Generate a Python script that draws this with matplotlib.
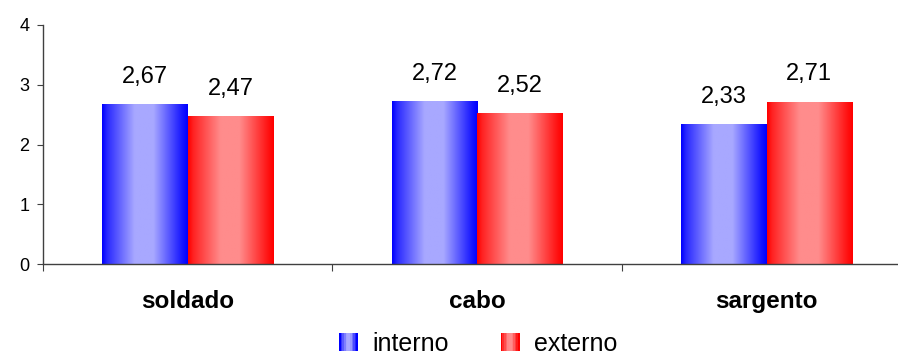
import numpy as np
import matplotlib
matplotlib.use("Agg")
import matplotlib.pyplot as plt
from matplotlib.legend_handler import HandlerBase
from matplotlib.patches import Rectangle

plt.rcParams['font.family'] = ['Liberation Sans', 'DejaVu Sans']

categories = ['soldado', 'cabo', 'sargento']
series_names = ['interno', 'externo']
interno = [2.67, 2.72, 2.33]
externo = [2.47, 2.52, 2.71]
value_labels = [['2,67', '2,72', '2,33'], ['2,47', '2,52', '2,71']]

edge_colors = [np.array([0, 0, 255]) / 255, np.array([255, 0, 0]) / 255]
light_colors = [np.array([168, 168, 255]) / 255, np.array([255, 140, 140]) / 255]

# horizontal shading profile across each bar (0 = full colour, 1 = light)
shade_t = [0.0, 0.06, 0.38, 0.6, 0.94, 1.0]
shade_v = [0.0, 0.25, 1.0, 1.0, 0.12, 0.0]


def gradient_row(i, n=120):
    t = np.linspace(0, 1, n)
    s = np.interp(t, shade_t, shade_v)[:, None]
    return (edge_colors[i] * (1 - s) + light_colors[i] * s)[None, :, :]


class GradientHandler(HandlerBase):
    def __init__(self, idx):
        super().__init__()
        self.idx = idx

    def create_artists(self, legend, orig_handle, xdescent, ydescent,
                       width, height, fontsize, trans):
        n = 12
        side = height * 1.05
        x0 = -xdescent + width - side
        y0 = -ydescent + (height - side) / 2
        row = gradient_row(self.idx, n)[0]
        arts = []
        for k in range(n):
            arts.append(Rectangle((x0 + k * side / n, y0), side / n + 0.3, side,
                                  facecolor=row[k], edgecolor='none', transform=trans))
        return arts


fig = plt.figure(figsize=(8.98, 3.56), dpi=100)
ax = fig.add_axes([0.0479, 0.2584, 0.967, 0.6714])

x = np.arange(len(categories))
w = 0.295
handles = []
for i, vals in enumerate([interno, externo]):
    pos = x - w / 2 if i == 0 else x + w / 2
    bars = ax.bar(pos, vals, w, facecolor='none', edgecolor='none', label=series_names[i])
    handles.append(bars)
    for b, lab in zip(bars, value_labels[i]):
        bx, bw, bh = b.get_x(), b.get_width(), b.get_height()
        ax.imshow(gradient_row(i), extent=[bx, bx + bw, 0, bh], aspect='auto',
                  interpolation='bilinear', zorder=2)
        ax.annotate(lab, (bx + bw / 2, bh), xytext=(0, 20), textcoords='offset points',
                    ha='center', va='center', fontsize=17)

ax.set_xlim(-0.5, 2.5)
ax.set_ylim(0, 4)
ax.set_yticks([0, 1, 2, 3, 4])
ax.tick_params(axis='y', labelsize=13, length=4, color='#404040', pad=6)

ax.set_xticks([-0.5, 0.5, 1.5, 2.5])
ax.set_xticklabels([])
ax.tick_params(axis='x', length=5, color='#404040')
ax.set_xticks(x, minor=True)
ax.set_xticklabels(categories, minor=True, fontsize=17.5, fontweight='bold')
ax.tick_params(axis='x', which='minor', length=0, pad=19)

for side in ['top', 'right']:
    ax.spines[side].set_visible(False)
for side in ['left', 'bottom']:
    ax.spines[side].set_color('#404040')
    ax.spines[side].set_linewidth(1.0)

fig.legend(handles, series_names, loc='center', bbox_to_anchor=(0.532, 0.035),
           ncol=2, frameon=False, fontsize=18, handlelength=0.8, handletextpad=0.6,
           columnspacing=2.0,
           handler_map={handles[0]: GradientHandler(0), handles[1]: GradientHandler(1)})

fig.savefig('out.png', dpi=100)
